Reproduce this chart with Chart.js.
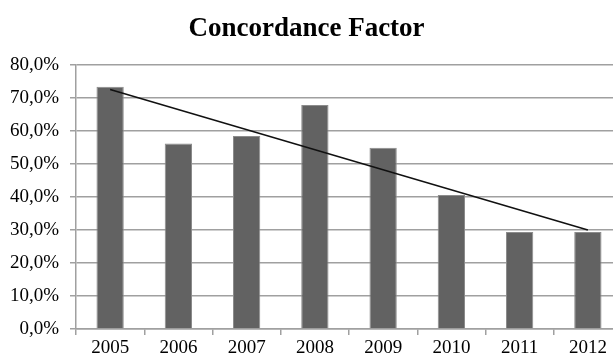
<!DOCTYPE html>
<html>
<head>
<meta charset="utf-8">
<script src="https://cdn.jsdelivr.net/npm/chart.js@4"></script>
<style>
  html, body { margin: 0; padding: 0; background: #fff; overflow: hidden; }
  #wrap { position: relative; width: 613px; height: 355px; overflow: hidden; }
  #title {
    position: absolute; left: 0; top: 12px; width: 613px; text-align: center;
    font: bold 27px "Liberation Serif", serif; color: #000;
  }
  #c { position: absolute; left: 0; top: 0; }
</style>
</head>
<body>
<div id="wrap">
  <canvas id="c" width="630" height="355"></canvas>
  <div id="title">Concordance Factor</div>
</div>
<script>
// ── Data ────────────────────────────────────────────────────────────────
const years = ["2005", "2006", "2007", "2008", "2009", "2010", "2011", "2012"];
const concordance = [73.4, 56.2, 58.5, 67.9, 54.9, 40.6, 29.4, 29.4];
// linear trend line, end points
const trend = [72.6, null, null, null, null, null, null, 30.0];
const yTicks = [0, 10, 20, 30, 40, 50, 60, 70, 80];

const fmt = (v) => v.toFixed(1).replace(".", ",") + "%";

new Chart(document.getElementById("c"), {
  type: "bar",
  data: {
    labels: years,
    datasets: [
      {
        type: "line",
        data: trend,
        borderColor: "#111",
        borderWidth: 1.5,
        pointRadius: 0,
        spanGaps: true,
        fill: false,
        order: 0,
      },
      {
        data: concordance,
        backgroundColor: "#626262",
        borderColor: "#8c8c8c",
        borderWidth: 1,
        barPercentage: 0.4,
        categoryPercentage: 1,
        order: 1,
      },
    ],
  },
  options: {
    responsive: false,
    animation: false,
    layout: { padding: { top: 65, right: 8, left: 0, bottom: 0 } },
    plugins: { legend: { display: false }, tooltip: { enabled: false } },
    scales: {
      x: {
        offset: true,
        afterFit: (s) => { s.height = 26; },
        grid: { offset: true, drawOnChartArea: false, drawTicks: true, tickLength: 6, color: "#a0a0a0", lineWidth: 1.5 },
        border: { color: "#a0a0a0", width: 1.5 },
        ticks: { color: "#000", font: { family: "Liberation Serif", size: 19 }, padding: 2 },
      },
      y: {
        min: 0,
        max: 80,
        afterBuildTicks: (s) => { s.ticks = yTicks.map((v) => ({ value: v })); },
        afterFit: (s) => { s.width = 76; },
        grid: { color: "#a0a0a0", lineWidth: 1.5, tickLength: 6 },
        border: { color: "#a0a0a0", width: 1.5 },
        ticks: { color: "#000", font: { family: "Liberation Serif", size: 19 }, padding: 11, callback: (v) => fmt(v) },
      },
    },
  },
});
</script>
</body>
</html>
